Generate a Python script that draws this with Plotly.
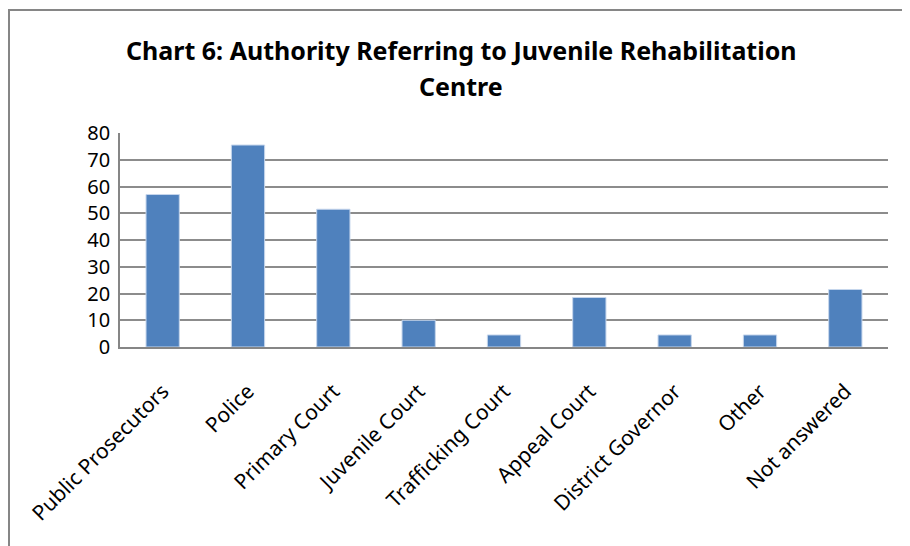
import plotly.graph_objects as go

categories = ["Public Prosecutors", "Police", "Primary Court", "Juvenile Court",
              "Trafficking Court", "Appeal Court", "District Governor", "Other",
              "Not answered"]
values = [57, 75.5, 51.5, 10, 4.5, 18.5, 4.5, 4.5, 21.5]
y_ticks = [0, 10, 20, 30, 40, 50, 60, 70, 80]
title_lines = ["Chart 6: Authority Referring to Juvenile Rehabilitation", "Centre"]

W, H = 910, 546
OFF = 8  # page body margin offset
# target plot area in screen pixels: x 120..888, y 133..347
L, R, T, B = 120 - OFF, W - 888 + OFF, 133 - OFF, H - 347 + OFF
pw, ph = W - L - R, H - T - B

FONT = "Noto Sans, sans-serif"


def px_x(x):
    return (x - OFF - L) / pw


def px_y(y):
    return (H - B - (y - OFF)) / ph


fig = go.Figure(go.Bar(
    x=categories, y=values,
    marker=dict(color="#4F81BD", line=dict(color="#C6D6EC", width=1)),
    width=0.39,
))

annotations = []
for line, yc in zip(title_lines, [50, 86]):
    annotations.append(dict(
        text="<b>%s</b>" % line, xref="paper", yref="paper",
        x=px_x(461), y=px_y(yc), xanchor="center", yanchor="middle",
        showarrow=False, font=dict(family=FONT, size=25, color="#000000"),
    ))

fig.update_layout(
    width=W, height=H,
    margin=dict(l=L, r=R, t=T, b=B),
    paper_bgcolor="white", plot_bgcolor="white",
    showlegend=False,
    annotations=annotations,
    xaxis=dict(
        tickangle=-45, showgrid=False, showline=True, linecolor="#868686",
        linewidth=1.5, ticks="", automargin=False, ticklabelstandoff=22,
        tickfont=dict(family=FONT, size=21, color="#000000"),
    ),
    yaxis=dict(
        range=[0, 80], tickvals=y_ticks, showgrid=True, gridcolor="#8C8C8C",
        gridwidth=1.5, showline=True, linecolor="#868686", linewidth=1.5,
        ticks="", zeroline=False, automargin=False, ticklabelstandoff=4,
        tickfont=dict(family=FONT, size=20, color="#000000"),
    ),
    shapes=[dict(
        type="rect", xref="paper", yref="paper",
        x0=px_x(9), y0=px_y(H + 30), x1=px_x(W + 30), y1=px_y(10),
        line=dict(color="#868686", width=2), fillcolor="rgba(0,0,0,0)",
        layer="below",
    )],
)

fig.write_html("out.html")
